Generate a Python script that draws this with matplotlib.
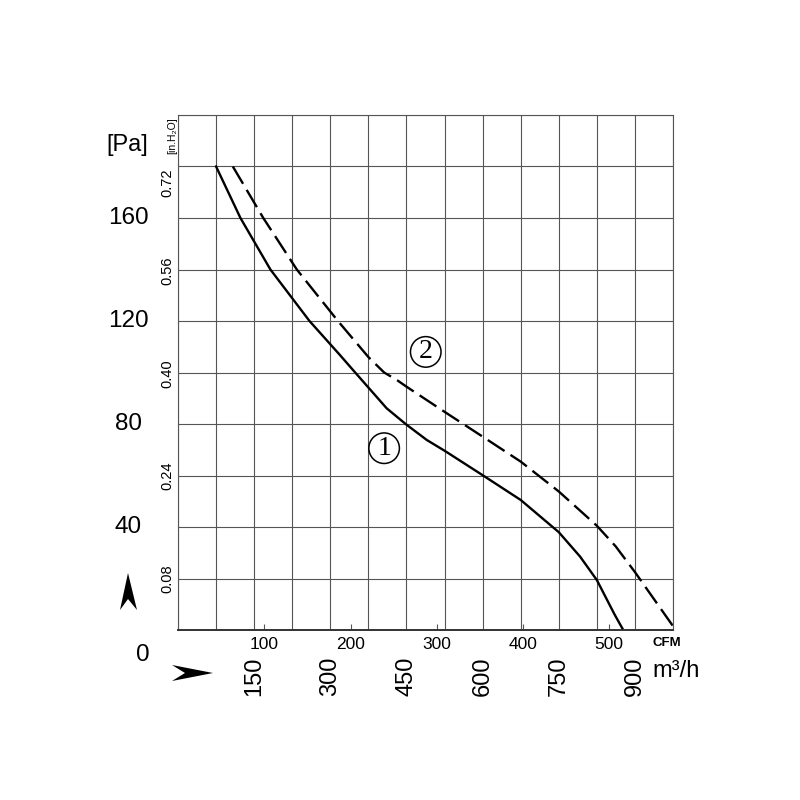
import numpy as np
import matplotlib.pyplot as plt
from matplotlib.patches import Polygon
from matplotlib.transforms import blended_transform_factory

plt.rcParams['font.family'] = ['Liberation Sans', 'DejaVu Sans']

# Kennlinie 1 (durchgezogen): Volumenstrom [m3/h], Druck [Pa]
flow_1 = [75, 123, 182, 259, 318, 349, 411, 449, 490, 526, 601, 675, 750, 792, 825, 860, 877]
pa_1 = [180, 160, 140, 120, 107, 100, 86.1, 79.9, 73.8, 69.5, 60, 50.5, 38, 28.5, 19.4, 6, 0]

# Kennlinie 2 (gestrichelt)
flow_2 = [108, 168, 234, 315, 375, 406, 431, 450, 526, 600, 675, 750, 825, 862, 900, 975]
pa_2 = [180, 160, 140, 120, 106, 100, 97.1, 94.5, 84.6, 75.1, 65.4, 53.8, 40.5, 32.5, 22.5, 1.5]

pa_labels = [40, 80, 120, 160]
inh2o_labels = [0.08, 0.24, 0.40, 0.56, 0.72]
cfm_labels = [100, 200, 300, 400, 500]
m3h_labels = [150, 300, 450, 600, 750, 900]

PA_PER_INH2O = 249.09
M3H_PER_CFM = 1.699

fig = plt.figure(figsize=(8, 8), dpi=100)
ax = fig.add_axes([0.2225, 0.2125, 0.61875, 0.64375])
ax.set_xlim(0, 975)
ax.set_ylim(0, 200)

# Raster
ax.set_xticks(np.arange(0, 976, 75))
ax.set_yticks(np.arange(0, 201, 20))
ax.tick_params(which='major', length=0, labelbottom=False, labelleft=False)
ax.grid(True, color='#555555', linewidth=0.8)
for side in ['left', 'top', 'right']:
    ax.spines[side].set_color('#555555')
    ax.spines[side].set_linewidth(0.8)
ax.spines['bottom'].set_color('#333333')
ax.spines['bottom'].set_linewidth(1.4)

# CFM Skala unten
ax.set_xticks([c * M3H_PER_CFM for c in cfm_labels], [str(c) for c in cfm_labels], minor=True)
ax.tick_params(axis='x', which='minor', direction='in', length=4, width=0.8,
               color='#555555', pad=5, labelsize=12.5)
fig.text(667 / 800, 1 - 643 / 800, 'CFM', ha='center', va='center', fontsize=9.5, fontweight='bold')

# m3/h Skala
for v in m3h_labels:
    ax.text(v, -0.089, str(v), transform=ax.get_xaxis_transform(), rotation=90,
            ha='center', va='center', fontsize=17)
fig.text(652 / 800, 1 - 671 / 800, 'm³/h', ha='left', va='center', fontsize=17)

# Pa Skala links
pa_trans = blended_transform_factory(fig.transFigure, ax.transData)
for v in pa_labels:
    ax.text(128 / 800, v, str(v), transform=pa_trans, ha='center', va='center', fontsize=17.5)
fig.text(143 / 800, 1 - 655 / 800, '0', ha='center', va='center', fontsize=17.5)
fig.text(127 / 800, 1 - 145 / 800, '[Pa]', ha='center', va='center', fontsize=17)

# in.H2O Skala
for v in inh2o_labels:
    ax.text(-0.021, v * PA_PER_INH2O, f'{v:.2f}', transform=ax.get_yaxis_transform(),
            rotation=90, ha='center', va='top' if v == inh2o_labels[-1] else 'center',
            fontsize=10.5)
fig.text(172 / 800, 1 - 136 / 800, '[in.H₂O]', rotation=90, ha='center', va='center', fontsize=7.5)

# Kennlinien
ax.plot(flow_1, pa_1, color='black', linewidth=1.7, solid_joinstyle='round')
ax.plot(flow_2, pa_2, color='black', linewidth=1.7, linestyle=(0, (8.5, 3)))

# Kurvennummern
for txt, x, y in [('1', 406, 70.6), ('2', 488, 108)]:
    ax.text(x, y, txt, family=['Liberation Serif', 'DejaVu Serif'], fontsize=20,
            ha='center', va='center',
            bbox=dict(boxstyle='circle,pad=0.1', fc='none', ec='black', lw=1.1))

# Pfeile
up_arrow = [(128, 573), (137, 610), (128, 599), (120, 610)]
right_arrow = [(213, 673), (172, 681), (185, 673), (172, 665)]
for pts in (up_arrow, right_arrow):
    fig.patches.append(Polygon([(px / 800, 1 - py / 800) for px, py in pts], closed=True,
                               transform=fig.transFigure, facecolor='black', edgecolor='none'))

fig.savefig('out.png', dpi=100)
